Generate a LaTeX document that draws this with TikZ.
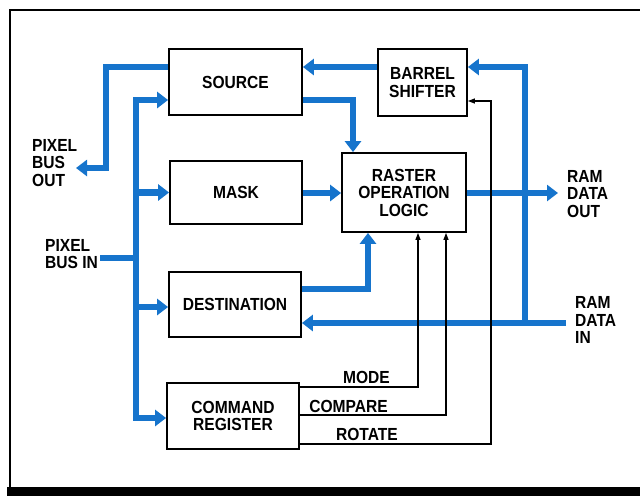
\documentclass[tikz,border=0pt]{standalone}
\usepackage{fontspec}
\newfontfamily\lblfam{Liberation Sans}[FakeStretch=0.89]
\usetikzlibrary{arrows.meta}
\definecolor{busblue}{RGB}{22,116,204}
\begin{document}
\begin{tikzpicture}[x=1pt,y=-1pt,
  lbl/.style={font=\lblfam\bfseries\fontsize{17.5}{17.5}\selectfont},
  blk/.style={draw,line width=1.8pt,lbl,align=center,inner sep=0pt},
  bus/.style={draw=busblue,line width=6.5pt,line join=miter,
    -{Triangle[width=16pt,length=11pt]}},
  busline/.style={draw=busblue,line width=6.5pt,line join=miter},
  ctl/.style={draw,line width=1.1pt,-{Triangle[width=5pt,length=7pt]}},
  txt/.style={lbl,inner sep=0pt}]
\useasboundingbox (0,0) rectangle (640,496);
% frame
\draw[line width=1.5pt] (640,10) -- (10,10) -- (10,487);
\fill (7,487) rectangle (640,496);
% blocks
\node[blk,minimum width=133pt,minimum height=66pt] (src) at (235.5,82) {SOURCE};
\node[blk,minimum width=89pt,minimum height=67pt] (bs) at (422.5,82.5) {BARREL\\SHIFTER};
\node[blk,minimum width=124pt,minimum height=79pt] (rol) at (404,192.5) {RASTER\\OPERATION\\LOGIC};
\node[blk,minimum width=132pt,minimum height=63pt] (mask) at (236,192.5) {MASK};
\node[blk,minimum width=132pt,minimum height=65pt] (dest) at (235,304.5) {DESTINATION};
\node[blk,minimum width=132pt,minimum height=66pt] (cmd) at (233,416) {COMMAND\\REGISTER};
% side labels
\node[txt,anchor=west,align=left] (pbotxt) at (32,163) {PIXEL\\BUS\\OUT};
\node[txt,anchor=west,align=left] (pbitxt) at (45,254) {PIXEL\\BUS IN};
\node[txt,anchor=west,align=left] (rdotxt) at (567,194) {RAM\\DATA\\OUT};
\node[txt,anchor=west,align=left] (rditxt) at (575,320) {RAM\\DATA\\IN};
\node[txt,anchor=base east] (modetxt) at (390,383) {MODE};
\node[txt,anchor=base east] (cmptxt) at (388,412) {COMPARE};
\node[txt,anchor=base east] (rottxt) at (398,440) {ROTATE};
% free ends
\coordinate (pbo) at (76,168);
\coordinate (pbi) at (100,258);
\coordinate (rdo) at (558,193);
\coordinate (rdi) at (566,323);
\coordinate (jn) at (525,323);
\coordinate (vb) at (136,258);
% blue buses
\draw[bus] ([yshift=15pt]src.west) -| (106,168) -- (pbo);
\draw[busline] (pbi) -- (vb);
\draw[bus,{Triangle[width=16pt,length=11pt]}-{Triangle[width=16pt,length=11pt]}]
  (src.west|-0,100) -- (136,100) -- (136,418) -- (cmd.west|-0,418);
\draw[bus] (136,192.5) -- (mask.west);
\draw[bus] (136,307) -- (dest.west|-0,307);
\draw[bus] (src.east|-0,100) -| ([xshift=-51pt]rol.north);
\draw[bus] (bs.west|-0,67) -- (src.east|-0,67);
\draw[bus] (jn) -- (525,67) -- (bs.east|-0,67);
\draw[bus] (rdi) -- (dest.east|-0,323);
\draw[bus] (mask.east|-0,193) -- (rol.west|-0,193);
\draw[bus] (rol.east|-0,193) -- (rdo);
\draw[bus] (dest.east|-0,289) -| ([xshift=-36pt]rol.south);
% control lines
\draw[ctl] (cmd.east|-0,387) -| ([xshift=14pt]rol.south);
\draw[ctl] (cmd.east|-0,415) -| ([xshift=42pt]rol.south);
\draw[ctl] (cmd.east|-0,444) -| (491,101) -- (bs.east|-0,101);
\end{tikzpicture}
\end{document}
